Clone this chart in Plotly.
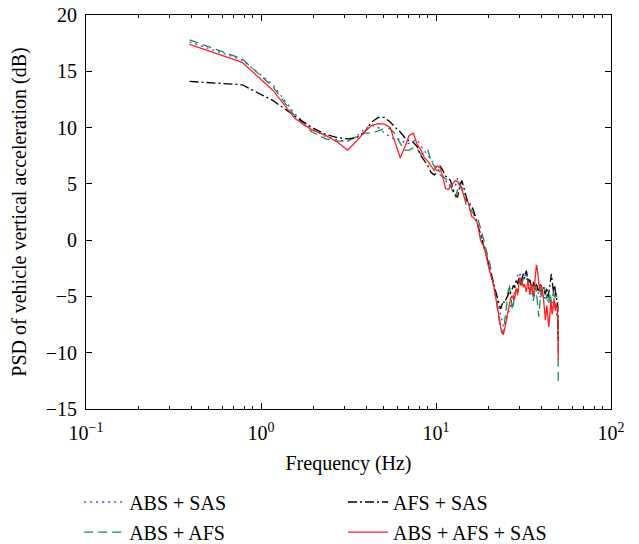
import plotly.graph_objects as go

# FFT bin frequencies (Hz): bin spacing 0.390625 Hz, bins 1..128
freq_hz = [round(0.390625 * k, 4) for k in range(1, 129)]

abs_sas = [
    17.6, 16.0, 13.8, 11.2, 9.9, 9.2, 8.9, 8.8, 9.2, 9.9,
    10.2, 10.0, 9.5, 9.2, 8.9, 9.0, 8.6, 8.6, 8.8, 8.9,
    8.4, 7.9, 7.6, 7.1, 6.8, 6.4, 6.0, 5.6, 5.3, 5.0,
    4.7, 4.4, 4.8, 5.5, 5.2, 4.6, 4.0, 3.6, 3.4, 3.3,
    2.8, 2.4, 2.0, 1.6, 1.1, 0.5, -0.1, -0.7, -1.3, -1.7,
    -2.1, -2.6, -3.2, -3.8, -4.3, -4.8, -5.3, -5.8, -6.2, -6.6,
    -7.1, -7.6, -7.7, -7.4, -6.9, -6.6, -6.2, -6.0, -5.5, -6.0,
    -5.2, -4.4, -3.8, -3.4, -3.0, -2.9, -3.1, -3.0, -2.9, -3.1,
    -3.0, -3.3, -3.0, -2.9, -3.4, -4.0, -4.6, -5.0, -4.8, -4.6,
    -4.9, -5.0, -4.7, -4.5, -4.8, -5.0, -4.9, -4.6, -4.8, -5.1,
    -5.0, -4.7, -4.9, -5.2, -5.0, -4.8, -5.1, -5.3, -5.1, -4.9,
    -5.2, -5.5, -5.3, -5.0, -5.2, -5.4, -5.7, -5.5, -5.8, -6.0,
    -5.7, -5.5, -5.9, -6.2, -6.5, -6.8, -7.2, -9.5,
]

abs_afs = [
    17.8, 16.1, 13.6, 11.0, 9.6, 9.0, 8.8, 8.8, 9.2, 9.5,
    9.5, 9.7, 9.9, 9.9, 9.4, 8.6, 8.0, 8.0, 8.2, 8.1,
    7.6, 7.8, 8.0, 7.0, 6.6, 6.0, 5.8, 5.6, 5.4, 5.3,
    4.8, 4.2, 3.8, 4.5, 5.0, 4.6, 3.8, 3.2, 2.9, 2.7,
    2.5, 2.3, 2.1, 2.0, 1.6, 1.1, 0.5, 0.0, -0.6, -1.1,
    -1.6, -2.1, -2.8, -3.5, -4.0, -4.6, -5.6, -6.6, -7.4, -7.9,
    -8.3, -8.1, -7.4, -6.5, -5.5, -4.5, -3.9, -4.6, -5.5, -6.2,
    -5.6, -4.8, -4.4, -4.6, -4.1, -3.8, -3.6, -3.9, -4.2, -3.6,
    -3.3, -3.5, -3.7, -3.5, -3.4, -3.8, -4.3, -4.8, -4.3, -4.0,
    -4.6, -5.4, -5.0, -4.4, -4.0, -4.6, -5.5, -6.3, -6.8, -6.0,
    -5.0, -4.5, -4.1, -4.4, -4.3, -4.2, -4.6, -5.0, -5.3, -5.1,
    -4.8, -5.2, -5.6, -5.0, -4.7, -5.2, -5.6, -5.3, -4.9, -4.6,
    -4.8, -5.3, -5.0, -4.7, -4.9, -5.2, -5.6, -12.5,
]

afs_sas = [
    14.1, 13.8, 12.4, 11.0, 10.0, 9.4, 9.1, 9.0, 9.1, 9.6,
    10.5, 10.9, 10.9, 10.5, 10.0, 9.6, 9.1, 8.8, 8.7, 8.3,
    7.5, 7.0, 6.6, 6.0, 5.8, 6.0, 6.6, 6.2, 5.7, 5.5,
    5.3, 4.5, 4.0, 3.8, 4.8, 5.3, 4.6, 3.8, 3.3, 3.1,
    3.0, 2.6, 2.1, 1.6, 1.0, 0.6, 0.0, -0.6, -1.0, -1.5,
    -2.1, -2.6, -3.1, -3.5, -4.1, -4.6, -5.0, -5.3, -5.8, -6.1,
    -5.8, -5.4, -5.6, -5.3, -5.0, -4.9, -4.6, -4.8, -4.4, -4.3,
    -4.0, -4.2, -3.8, -3.5, -3.9, -3.4, -3.6, -3.9, -3.5, -3.2,
    -3.0, -3.4, -2.9, -2.7, -3.1, -3.6, -3.8, -3.5, -3.9, -4.2,
    -4.0, -3.7, -4.1, -4.4, -4.2, -3.8, -4.1, -4.5, -4.3, -4.6,
    -4.4, -4.0, -4.3, -4.6, -4.4, -4.2, -4.5, -4.8, -4.5, -4.2,
    -4.7, -5.0, -4.6, -4.3, -3.9, -3.3, -3.0, -3.6, -4.2, -4.6,
    -4.3, -4.0, -4.5, -5.0, -5.3, -5.6, -5.9, -9.0,
]

abs_afs_sas = [
    17.4, 15.8, 13.3, 10.8, 9.8, 9.3, 8.7, 8.0, 8.8, 9.6,
    10.2, 10.35, 10.3, 10.0, 8.6, 7.3, 8.3, 9.3, 9.5, 8.5,
    8.0, 7.3, 7.0, 6.6, 6.2, 6.6, 6.4, 5.6, 4.6, 4.5,
    4.8, 5.1, 5.3, 5.2, 4.8, 4.5, 3.9, 3.5, 3.4, 2.8,
    2.1, 2.0, 1.8, 1.6, 0.8, 0.0, -0.3, -0.5, -1.0, -1.8,
    -2.3, -2.8, -3.3, -3.8, -4.2, -5.0, -5.6, -6.3, -7.0, -7.8,
    -8.2, -8.4, -8.0, -7.4, -6.9, -6.2, -5.6, -5.3, -5.0, -5.1,
    -4.9, -5.3, -4.6, -4.3, -4.9, -4.1, -3.3, -3.6, -4.0, -3.8,
    -4.2, -3.9, -4.3, -4.6, -4.0, -3.6, -4.2, -4.7, -4.2, -3.9,
    -4.5, -5.0, -4.4, -3.5, -2.5, -2.2, -2.5, -3.2, -3.8, -4.4,
    -3.9, -4.1, -4.8, -4.5, -5.0, -5.6, -6.2, -7.1, -6.5, -5.8,
    -6.4, -7.2, -7.7, -7.0, -6.0, -5.4, -5.9, -6.6, -6.2, -5.5,
    -5.2, -5.8, -6.3, -5.6, -6.0, -5.8, -6.6, -10.6,
]

# name, values, colour, dash, legend id (one per legend slot)
series = [
    ("ABS + SAS", abs_sas, "#3a4fd8", "2px,4px", "legend"),
    ("ABS + AFS", abs_afs, "#1e8a4a", "9px,5px", "legend3"),
    ("AFS + SAS", afs_sas, "#000000", "9px,3px,2px,3px", "legend2"),
    ("ABS + AFS + SAS", abs_afs_sas, "#ff2020", "solid", "legend4"),
]

FONT = "Liberation Serif"
FS = 20

fig = go.Figure()
for name, vals, color, dash, leg in series:
    fig.add_trace(go.Scatter(
        x=freq_hz, y=vals, mode="lines", name=name,
        line=dict(color=color, dash=dash, width=1.3),
        legend=leg, showlegend=True,
    ))

axis_common = dict(
    showline=True, linecolor="black", linewidth=1, mirror="ticks",
    ticks="inside", ticklen=6, tickcolor="black", showgrid=False,
    zeroline=False, tickfont=dict(family=FONT, size=FS, color="black"),
)

fig.update_xaxes(
    type="log", range=[-1, 2],
    tickvals=[0.1, 1, 10, 100],
    ticktext=["10<sup>−1</sup>", "10<sup>0</sup>", "10<sup>1</sup>", "10<sup>2</sup>"],
    ticklabelstandoff=6,
    minor=dict(ticks="inside", ticklen=3, tickcolor="black",
               tickvals=[m * 10 ** e for e in (-1, 0, 1) for m in range(2, 10)]),
    title=dict(text="Frequency (Hz)", font=dict(family=FONT, size=FS, color="black"), standoff=12),
    **axis_common,
)
fig.update_yaxes(
    range=[-15, 20], tickvals=[-15, -10, -5, 0, 5, 10, 15, 20],
    ticktext=["−15", "−10", "−5", "0", "5", "10", "15", "20"],
    ticklabelstandoff=4,
    title=dict(text="PSD of vehicle vertical acceleration (dB)",
               font=dict(family=FONT, size=FS, color="black"), standoff=13),
    **axis_common,
)

leg_common = dict(
    orientation="v", yanchor="middle", xanchor="left",
    font=dict(family=FONT, size=FS, color="black"),
    bgcolor="rgba(0,0,0,0)", itemwidth=40,
)
col_x = [-0.013, 0.4895]
row_y = [-0.236, -0.3125]

fig.update_layout(
    width=639, height=544, showlegend=True,
    margin=dict(l=86, r=28, t=15, b=135, autoexpand=False),
    paper_bgcolor="white", plot_bgcolor="white",
    font=dict(family=FONT, size=FS, color="black"),
    legend=dict(x=col_x[0], y=row_y[0], **leg_common),
    legend2=dict(x=col_x[1], y=row_y[0], **leg_common),
    legend3=dict(x=col_x[0], y=row_y[1], **leg_common),
    legend4=dict(x=col_x[1], y=row_y[1], **leg_common),
)

fig.write_html("out.html")
